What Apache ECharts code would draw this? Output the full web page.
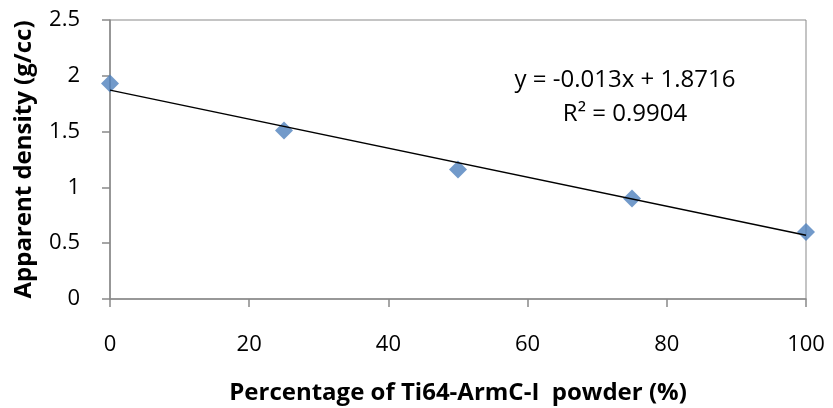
<!DOCTYPE html>
<html>
<head>
<meta charset="utf-8">
<script src="https://cdn.jsdelivr.net/npm/echarts@6/dist/echarts.min.js"></script>
<style>html,body{margin:0;padding:0;background:#fff}#c{width:833px;height:408px}</style>
</head>
<body>
<div id="c"></div>
<script>
var percentages = [0, 25, 50, 75, 100];
var density = [1.93, 1.51, 1.16, 0.90, 0.60];
var trendSlope = -0.013;
var trendIntercept = 1.8716;
var equationText = 'y = -0.013x + 1.8716';
var r2Text = 'R\u00b2 = 0.9904';
var xTitle = 'Percentage of Ti64-ArmC-I  powder (%)';
var yTitle = 'Apparent density (g/cc)';

var FONT = 'Open Sans';
var trendX = [percentages[0], percentages[percentages.length - 1]];
var trendData = trendX.map(function (x) { return [x, trendSlope * x + trendIntercept]; });

var chart = echarts.init(document.getElementById('c'));
chart.setOption({
  animation: false,
  backgroundColor: '#fff',
  grid: { left: 110, right: 27, top: 20, bottom: 109, show: true, borderColor: '#898989', borderWidth: 1,
          containLabel: false, outerBoundsMode: 'none' },
  xAxis: {
    type: 'value', min: 0, max: 100, interval: 20,
    name: xTitle, nameLocation: 'middle', nameGap: 82,
    nameTextStyle: { fontFamily: FONT, fontWeight: 'bold', fontSize: 24, color: '#000' },
    axisLine: { lineStyle: { color: '#898989', width: 1.5 } },
    axisTick: { show: true, length: 8, lineStyle: { color: '#898989', width: 1.5 } },
    axisLabel: { fontFamily: FONT, fontSize: 22, color: '#000', margin: 35 },
    splitLine: { show: false }
  },
  yAxis: {
    type: 'value', min: 0, max: 2.5, interval: 0.5,
    name: yTitle, nameLocation: 'middle', nameGap: 74,
    nameTextStyle: { fontFamily: FONT, fontWeight: 'bold', fontSize: 24, color: '#000' },
    axisLine: { show: true, lineStyle: { color: '#898989', width: 1.5 } },
    axisTick: { show: true, length: 8, lineStyle: { color: '#898989', width: 1.5 } },
    axisLabel: { fontFamily: FONT, fontSize: 22, color: '#000', margin: 30 },
    splitLine: { show: false }
  },
  series: [
    {
      type: 'line', data: trendData, symbol: 'none', z: 3,
      lineStyle: { color: '#000', width: 1.5 }
    },
    {
      type: 'scatter',
      data: percentages.map(function (x, i) { return [x, density[i]]; }),
      symbol: 'diamond', symbolSize: [18, 18], z: 2,
      itemStyle: { color: '#4F81BD' }
    }
  ],
  graphic: [
    { type: 'text', style: { text: equationText, x: 625, y: 80, align: 'center', verticalAlign: 'middle', fontFamily: FONT, fontSize: 24, fill: '#000' } },
    { type: 'text', style: { text: r2Text, x: 625, y: 114, align: 'center', verticalAlign: 'middle', fontFamily: FONT, fontSize: 24, fill: '#000' } }
  ]
});
</script>
</body>
</html>
